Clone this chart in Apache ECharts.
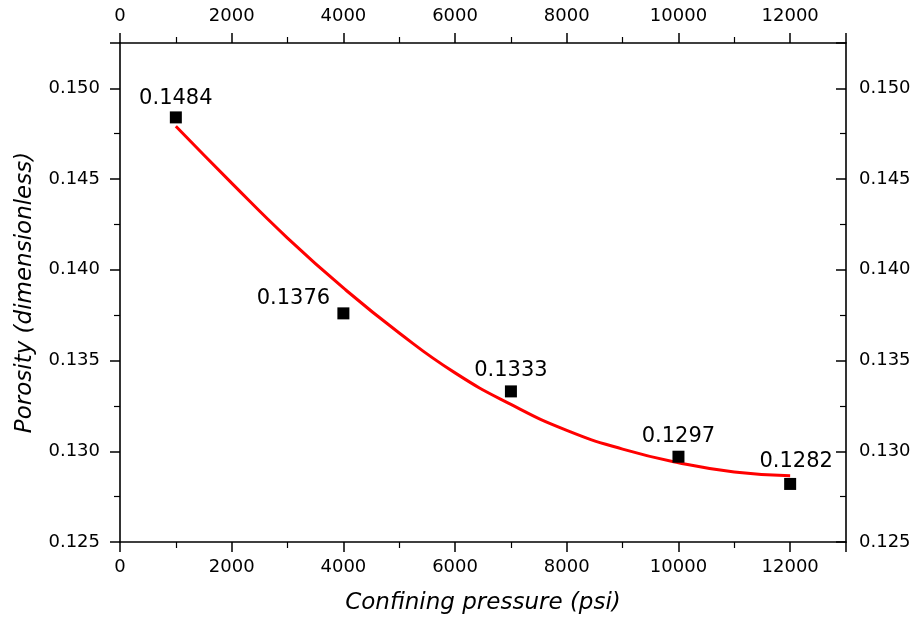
<!DOCTYPE html>
<html>
<head>
<meta charset="utf-8">
<script src="https://cdn.jsdelivr.net/npm/echarts@6/dist/echarts.min.js"></script>
<style>html,body{margin:0;padding:0;background:#fff;}#c{width:917px;height:622px;}</style>
</head>
<body>
<div id="c"></div>
<script>
const pressure = [1000, 4000, 7000, 10000, 12000];
const porosity = [0.1484, 0.1376, 0.1333, 0.1297, 0.1282];
const fitPressure = [1000, 2000, 3000, 4000, 5000, 6000, 7000, 8000, 9000, 10000, 11000, 12000];
const fitPorosity = [0.14791, 0.14478, 0.14175, 0.13900, 0.13652, 0.13432, 0.13258, 0.13115, 0.13012, 0.12937, 0.12886, 0.12865];
const xTitle = 'Confining pressure (psi)';
const yTitle = 'Porosity (dimensionless)';

const labelOffsets = [[0, 2], [-50, 6], [0, 0], [0, 0], [6, -2]];
const FONT = 'DejaVu Sans';

const chart = echarts.init(document.getElementById('c'));
const axisLine = {show: true, onZero: false, lineStyle: {color: '#000', width: 1.6}};
const tick = {show: true, length: 10, lineStyle: {color: '#000', width: 1.5}};
const minor = {show: true, splitNumber: 2, length: 6, lineStyle: {color: '#000', width: 1.2}};
const lbl = {color: '#000', fontFamily: FONT, fontSize: 18};
const xFmt = v => String(v);
const yFmt = v => v.toFixed(3);

chart.setOption({
  animation: false,
  backgroundColor: '#fff',
  grid: {left: 120, right: 71, top: 43, bottom: 80, containLabel: false, outerBoundsMode: 'none'},
  xAxis: [
    {type: 'value', position: 'bottom', min: 0, max: 13000, interval: 2000,
     name: xTitle, nameLocation: 'middle', nameGap: 50,
     nameTextStyle: {fontFamily: FONT, fontSize: 23, fontStyle: 'italic', color: '#000'},
     axisLine, axisTick: tick, minorTick: minor, splitLine: {show: false},
     axisLabel: Object.assign({margin: 16, showMaxLabel: false, formatter: xFmt}, lbl)},
    {type: 'value', position: 'top', min: 0, max: 13000, interval: 2000,
     axisLine, axisTick: tick, minorTick: minor, splitLine: {show: false},
     axisLabel: Object.assign({margin: 18, showMaxLabel: false, formatter: xFmt}, lbl)}
  ],
  yAxis: [
    {type: 'value', position: 'left', min: 0.125, max: 0.1525, interval: 0.005,
     name: yTitle, nameLocation: 'middle', nameGap: 83, nameRotate: 90,
     nameTextStyle: {fontFamily: FONT, fontSize: 23, fontStyle: 'italic', color: '#000'},
     axisLine, axisTick: tick, minorTick: minor, splitLine: {show: false},
     axisLabel: Object.assign({margin: 20, showMaxLabel: false, formatter: yFmt}, lbl)},
    {type: 'value', position: 'right', min: 0.125, max: 0.1525, interval: 0.005,
     axisLine, axisTick: Object.assign({}, tick, {inside: true}), minorTick: minor, splitLine: {show: false},
     axisLabel: Object.assign({margin: 13, showMaxLabel: false, formatter: yFmt}, lbl)}
  ],
  series: [
    {type: 'line', xAxisIndex: 0, yAxisIndex: 0, smooth: 0.5, showSymbol: false, z: 2,
     lineStyle: {color: '#ff0000', width: 3},
     data: fitPressure.map((x, i) => [x, fitPorosity[i]])},
    {type: 'scatter', xAxisIndex: 0, yAxisIndex: 0, symbol: 'rect', symbolSize: 12, z: 3,
     itemStyle: {color: '#000', opacity: 1},
     label: {show: true, position: 'top', distance: 4, color: '#000', fontFamily: FONT, fontSize: 21},
     data: pressure.map((x, i) => ({
       value: [x, porosity[i]],
       label: {offset: labelOffsets[i], formatter: porosity[i].toFixed(4)}
     }))}
  ]
});
</script>
</body>
</html>
